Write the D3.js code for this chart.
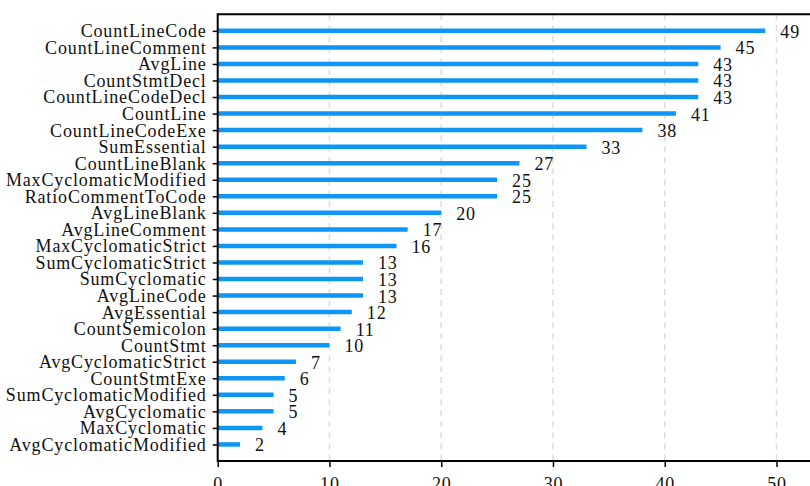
<!DOCTYPE html>
<html>
<head>
<meta charset="utf-8">
<script src="https://cdn.jsdelivr.net/npm/d3@7"></script>
<style>
  html, body { margin: 0; padding: 0; background: #fff; }
  svg { display: block; }
  text { font-family: "Liberation Serif", serif; fill: #111; }
</style>
</head>
<body>
<svg id="chart" width="810" height="486"></svg>
<script>
const categories = ["CountLineCode","CountLineComment","AvgLine","CountStmtDecl","CountLineCodeDecl","CountLine","CountLineCodeExe","SumEssential","CountLineBlank","MaxCyclomaticModified","RatioCommentToCode","AvgLineBlank","AvgLineComment","MaxCyclomaticStrict","SumCyclomaticStrict","SumCyclomatic","AvgLineCode","AvgEssential","CountSemicolon","CountStmt","AvgCyclomaticStrict","CountStmtExe","SumCyclomaticModified","AvgCyclomatic","MaxCyclomatic","AvgCyclomaticModified"];
const values = [49,45,43,43,43,41,38,33,27,25,25,20,17,16,13,13,13,12,11,10,7,6,5,5,4,2];
const xTicks = [0,10,20,30,40,50];

const svg = d3.select("#chart");
const mLeft = 217.7, mTop = 14.3, mBottom = 461, mRight = 830;
const fontSize = 18;
const fontFam = "Liberation Serif";
const ls = "0.85px";

const x = d3.scaleLinear().domain([0, 50]).range([mLeft, mLeft + 558.8]);
const y = d3.scalePoint().domain(categories).range([mTop, mBottom]).padding(1);

// grid
svg.append("g").selectAll("line").data(xTicks.filter(d => d > 0)).join("line")
  .attr("x1", d => x(d)).attr("x2", d => x(d))
  .attr("y1", mTop).attr("y2", mBottom)
  .attr("stroke", "#dcdcdc").attr("stroke-width", 1.5)
  .attr("stroke-dasharray", "6,5");

// bars
svg.append("g").selectAll("line").data(categories).join("line")
  .attr("x1", x(0)).attr("x2", (d, i) => x(values[i]))
  .attr("y1", d => y(d)).attr("y2", d => y(d))
  .attr("stroke", "#0d96f5").attr("stroke-width", 4.5);

// value labels
svg.append("g").selectAll("text").data(categories).join("text")
  .attr("x", (d, i) => x(values[i]) + 15)
  .attr("y", d => y(d) + 7)
  .attr("font-size", fontSize)
  .attr("font-family", fontFam)
  .style("letter-spacing", ls)
  .text((d, i) => values[i]);

// y axis
const yAxis = svg.append("g").attr("transform", `translate(${mLeft},0)`)
  .call(d3.axisLeft(y).tickSize(5).tickPadding(6));
yAxis.select(".domain").remove();
yAxis.selectAll(".tick line").attr("stroke", "#000").attr("stroke-width", 1.5);
yAxis.selectAll("text").attr("font-size", fontSize).attr("font-family", fontFam)
  .attr("fill", "#111").attr("dy", "0.33em").style("letter-spacing", ls);

// x axis
const xAxis = svg.append("g").attr("transform", `translate(0,${mBottom})`)
  .call(d3.axisBottom(x).tickValues(xTicks).tickSize(6).tickPadding(10).tickFormat(d3.format("d")));
xAxis.select(".domain").remove();
xAxis.selectAll(".tick line").attr("stroke", "#000").attr("stroke-width", 1.5);
xAxis.selectAll("text").attr("font-size", fontSize).attr("font-family", fontFam)
  .attr("fill", "#111").style("letter-spacing", ls);

// frame lines
svg.append("line").attr("x1", mLeft).attr("x2", mRight).attr("y1", mTop).attr("y2", mTop)
  .attr("stroke", "#000").attr("stroke-width", 2);
svg.append("line").attr("x1", mLeft).attr("x2", mRight).attr("y1", mBottom).attr("y2", mBottom)
  .attr("stroke", "#000").attr("stroke-width", 2);
svg.append("line").attr("x1", mLeft).attr("x2", mLeft).attr("y1", mTop - 1).attr("y2", mBottom + 1)
  .attr("stroke", "#000").attr("stroke-width", 2);
</script>
</body>
</html>
